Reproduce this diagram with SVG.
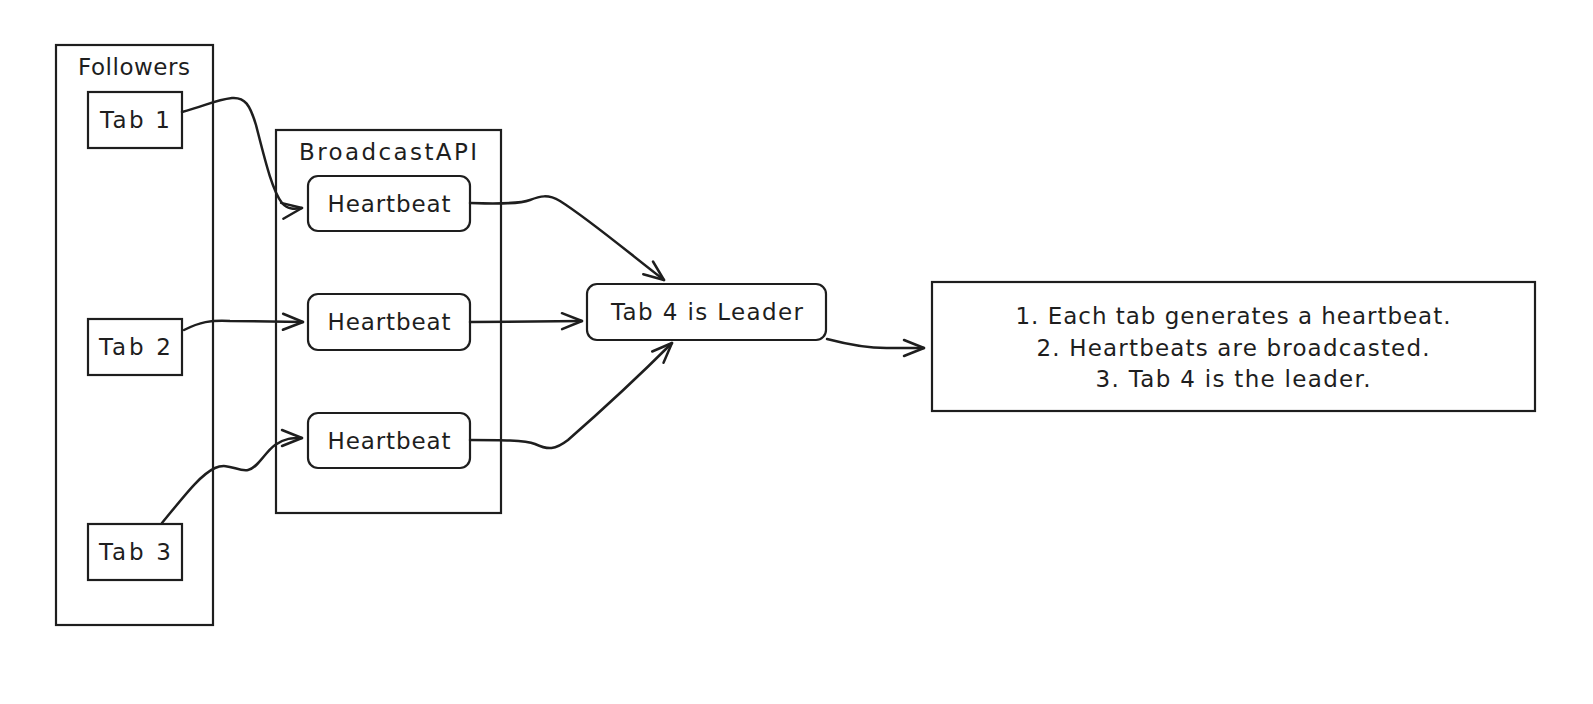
<svg xmlns="http://www.w3.org/2000/svg" width="1593" height="704" viewBox="0 0 1593 704">
<style>
.box{fill:#fff;stroke:#1e1e1e;stroke-width:2.2;}
.t{font-family:"DejaVu Sans","Liberation Sans",sans-serif;font-size:23px;fill:#1e1e1e;text-anchor:middle;}
.c{fill:none;stroke:#1e1e1e;stroke-width:2.5;stroke-linecap:round;stroke-linejoin:round;}
</style>
<defs>
<marker id="ah" markerWidth="30" markerHeight="30" refX="0" refY="0" viewBox="-25 -15 30 30" orient="auto" markerUnits="userSpaceOnUse">
<path d="M-20,-8 L0,0 L-20,8" fill="none" stroke="#1e1e1e" stroke-width="2.5" stroke-linecap="round" stroke-linejoin="round"/>
</marker>
</defs>
<rect width="1593" height="704" fill="#fff"/>
<g id="followers">
<rect class="box" x="56" y="45" width="157" height="580"/>
<text class="t" x="134" y="75" textLength="112">Followers</text>
</g>
<g id="broadcast">
<rect class="box" x="276" y="130" width="225" height="383"/>
<text class="t" x="388" y="160" textLength="178">BroadcastAPI</text>
</g>
<g id="tab1">
<rect class="box" x="88" y="92" width="94" height="56"/>
<text class="t" x="135" y="128" textLength="70">Tab 1</text>
</g>
<g id="tab2">
<rect class="box" x="88" y="319" width="94" height="56"/>
<text class="t" x="135" y="355" textLength="72">Tab 2</text>
</g>
<g id="tab3">
<rect class="box" x="88" y="524" width="94" height="56"/>
<text class="t" x="135" y="560" textLength="72">Tab 3</text>
</g>
<g id="hb1">
<rect class="box" x="308" y="176" width="162" height="55" rx="10"/>
<text class="t" x="389" y="212" textLength="123">Heartbeat</text>
</g>
<g id="hb2">
<rect class="box" x="308" y="294" width="162" height="56" rx="10"/>
<text class="t" x="389" y="330" textLength="123">Heartbeat</text>
</g>
<g id="hb3">
<rect class="box" x="308" y="413" width="162" height="55" rx="10"/>
<text class="t" x="389" y="449" textLength="123">Heartbeat</text>
</g>
<g id="leader">
<rect class="box" x="587" y="284" width="239" height="56" rx="10"/>
<text class="t" x="707" y="320" textLength="192">Tab 4 is Leader</text>
</g>
<g id="notes">
<rect class="box" x="932" y="282" width="603" height="129"/>
<text class="t" x="1233" y="324" textLength="435">1. Each tab generates a heartbeat.</text>
<text class="t" x="1233" y="356" textLength="393">2. Heartbeats are broadcasted.</text>
<text class="t" x="1233" y="387" textLength="275">3. Tab 4 is the leader.</text>
</g>
<g id="connectors">
<path class="c" d="M182,112 C205,106 215,100 232,98 C245,97 250,105 256,125 C265,160 272,190 282,203 C288,210 295,209 302,208" marker-end="url(#ah)"/>
<path class="c" d="M184,330 C200,322 210,320 230,321 L303,322" marker-end="url(#ah)"/>
<path class="c" d="M162,523 C185,495 200,475 215,468 C228,462 238,472 248,470 C258,468 265,452 275,445 C285,438 292,438 302,438" marker-end="url(#ah)"/>
<path class="c" d="M470,203 C500,204 520,204 530,200 C540,196 548,194 560,201 C590,220 630,254 664,280" marker-end="url(#ah)"/>
<path class="c" d="M470,322 L582,321" marker-end="url(#ah)"/>
<path class="c" d="M470,440 C500,440 525,440 535,444 C548,450 555,450 568,440 C600,412 640,375 672,343" marker-end="url(#ah)"/>
<path class="c" d="M827,339 C850,345 870,349 892,348 L924,348" marker-end="url(#ah)"/>
</g>
</svg>
